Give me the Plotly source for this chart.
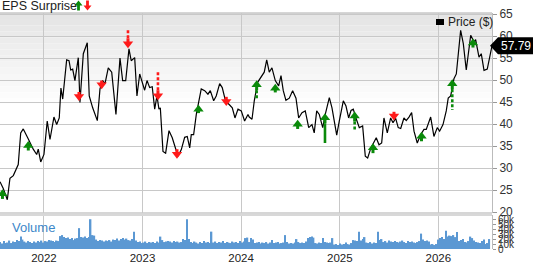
import plotly.graph_objects as go
import pandas as pd

# ---------------- data ----------------
# price observation times (fractional years) and close prices ($)
price_t = [2021.554, 2021.587, 2021.628, 2021.655, 2021.689, 2021.739, 2021.764, 2021.790, 2021.841, 2021.891,
           2021.926, 2021.942, 2021.967, 2022.000, 2022.033, 2022.061, 2022.101, 2022.129, 2022.155, 2022.172,
           2022.190, 2022.230, 2022.254, 2022.271, 2022.291, 2022.314, 2022.348, 2022.365, 2022.399, 2022.439,
           2022.459, 2022.494, 2022.541, 2022.568, 2022.595, 2022.619, 2022.652, 2022.687, 2022.730, 2022.771,
           2022.798, 2022.829, 2022.862, 2022.885, 2022.920, 2022.943, 2022.971, 2022.987, 2023.021, 2023.045,
           2023.072, 2023.098, 2023.123, 2023.146, 2023.166, 2023.180, 2023.207, 2023.234, 2023.268, 2023.301,
           2023.336, 2023.359, 2023.393, 2023.427, 2023.453, 2023.478, 2023.494, 2023.518, 2023.545, 2023.595,
           2023.630, 2023.663, 2023.687, 2023.721, 2023.747, 2023.782, 2023.808, 2023.843, 2023.876, 2023.910,
           2023.937, 2023.968, 2024.001, 2024.035, 2024.069, 2024.082, 2024.110, 2024.133, 2024.167, 2024.201,
           2024.234, 2024.259, 2024.285, 2024.312, 2024.346, 2024.380, 2024.404, 2024.427, 2024.454, 2024.488,
           2024.522, 2024.556, 2024.583, 2024.617, 2024.650, 2024.685, 2024.718, 2024.741, 2024.766, 2024.792,
           2024.827, 2024.853, 2024.894, 2024.921, 2024.944, 2024.969, 2024.995, 2025.036, 2025.063, 2025.090,
           2025.114, 2025.137, 2025.164, 2025.198, 2025.232, 2025.259, 2025.283, 2025.316, 2025.370, 2025.398,
           2025.425, 2025.448, 2025.482, 2025.516, 2025.540, 2025.567, 2025.593, 2025.618, 2025.651, 2025.674,
           2025.702, 2025.729, 2025.753, 2025.786, 2025.820, 2025.854, 2025.877, 2025.922, 2025.955, 2025.989,
           2026.013, 2026.047, 2026.080, 2026.100, 2026.125, 2026.158, 2026.182, 2026.202, 2026.226, 2026.253,
           2026.283, 2026.328, 2026.361, 2026.378, 2026.412, 2026.435, 2026.463, 2026.496, 2026.530, 2026.544]
price = [26.9, 25.4, 22.8, 27.7, 28.3, 30.8, 38.0, 38.9, 36.6, 34.3,
         33.1, 34.3, 31.4, 33.1, 40.7, 36.5, 41.6, 39.9, 41.4, 48.2,
         45.7, 54.6, 54.4, 52.3, 52.5, 49.9, 55.1, 44.9, 56.0, 58.5,
         46.4, 43.7, 40.8, 48.0, 49.9, 49.2, 52.8, 51.8, 42.2, 55.0,
         49.9, 49.9, 57.1, 54.4, 55.1, 46.4, 51.4, 50.3, 47.7, 49.9,
         48.3, 48.5, 43.4, 46.4, 43.4, 43.7, 33.8, 33.4, 38.5, 36.9,
         34.0, 32.7, 34.2, 37.0, 37.2, 34.6, 37.6, 37.6, 42.2, 48.0,
         47.6, 46.8, 47.6, 45.3, 46.4, 49.2, 48.3, 45.1, 44.5, 43.7,
         41.4, 43.4, 43.0, 40.7, 42.2, 41.6, 41.1, 45.3, 49.5, 50.6,
         51.8, 54.6, 51.8, 52.8, 49.9, 48.7, 51.0, 47.6, 45.4, 45.9,
         47.6, 45.9, 41.4, 42.6, 43.0, 39.2, 39.9, 38.0, 43.0, 42.2,
         39.2, 42.2, 46.0, 43.7, 40.3, 37.5, 40.7, 45.3, 44.1, 41.4,
         43.1, 43.4, 41.4, 39.2, 39.6, 32.7, 32.3, 34.6, 36.9, 35.3,
         35.7, 41.4, 38.0, 41.4, 40.3, 41.3, 39.2, 39.0, 41.4, 40.8,
         41.6, 42.6, 38.4, 35.7, 37.6, 38.8, 38.8, 41.6, 37.2, 39.2,
         38.4, 39.9, 43.0, 45.9, 46.4, 50.3, 51.4, 56.0, 61.3, 58.3,
         52.3, 60.2, 58.7, 59.2, 55.2, 56.0, 52.2, 52.5, 56.7, 57.79]
last_price = 57.79

# EPS surprise events: time, arrow tip price, tail price, beat/miss, stem style
eps_t = [2021.579, 2021.841, 2022.355, 2022.585, 2022.852, 2023.156, 2023.349, 2023.567, 2023.849, 2024.157,
         2024.346, 2024.573, 2024.850, 2025.151, 2025.337, 2025.550, 2025.829, 2026.141, 2026.351]
eps_tip = [24.9, 35.9, 45.5, 48.2, 57.5, 45.7, 32.4, 44.1, 44.4, 49.7,
           48.9, 40.7, 42.2, 42.6, 35.4, 41.1, 38.0, 49.9, 59.2]
eps_tail = [23.0, 34.0, 47.3, 49.9, 61.6, 52.2, 34.3, 42.5, 46.2, 45.5,
            47.2, 38.9, 35.7, 38.4, 33.4, 42.8, 36.1, 43.2, 57.4]
eps_beat = [True, True, False, False, False, False, False, True, False, True,
            True, True, True, True, True, False, True, True, True]
eps_stem = ["dot", "dot", "dot", "dot", "dot", "dot", "dot", "dot", "dot", "dot",
            "dot", "dot", "solid", "dot", "dot", "dot", "dot", "dot", "dot"]

# weekly volume (thousands of shares)
volume_start = "2021-07-22"
volume_k = [14, 11, 16, 12, 13, 17, 12, 15, 14, 18,
            16, 25, 19, 15, 13, 16, 14, 12, 15, 13,
            16, 14, 17, 13, 16, 15, 18, 17, 16, 14,
            17, 16, 26, 28, 24, 22, 23, 20, 22, 18,
            21, 22, 42, 24, 23, 25, 22, 24, 60, 28,
            27, 19, 16, 18, 17, 15, 17, 16, 18, 15,
            19, 18, 21, 17, 20, 22, 19, 21, 18, 17,
            20, 35, 17, 14, 15, 12, 13, 15, 12, 14,
            13, 14, 12, 15, 13, 25, 18, 14, 15, 16,
            15, 13, 16, 14, 15, 13, 14, 20, 18, 60,
            20, 14, 12, 15, 13, 11, 14, 12, 16, 13,
            14, 12, 35, 13, 15, 12, 14, 13, 16, 12,
            14, 13, 12, 15, 13, 14, 12, 16, 13, 15,
            22, 23, 14, 22, 19, 12, 13, 14, 11, 13,
            12, 14, 11, 13, 18, 12, 13, 14, 11, 12,
            13, 28, 14, 11, 12, 11, 13, 20, 14, 12,
            13, 12, 15, 22, 24, 25, 23, 12, 11, 13,
            12, 22, 14, 13, 12, 13, 22, 9, 10, 8,
            11, 9, 10, 13, 10, 9, 12, 18, 17, 16,
            35, 17, 20, 24, 13, 12, 14, 11, 13, 12,
            35, 18, 20, 14, 16, 13, 17, 15, 14, 16,
            14, 13, 15, 17, 14, 12, 16, 14, 15, 13,
            12, 14, 16, 31, 19, 16, 17, 15, 9, 10,
            8, 10, 19, 22, 24, 20, 37, 25, 27, 26,
            28, 24, 34, 16, 18, 20, 14, 13, 16, 25,
            22, 17, 14, 13, 12, 16, 19, 10, 12, 20]

year_ticks = ["2022", "2023", "2024", "2025", "2026"]
price_ticks = [20, 25, 30, 35, 40, 45, 50, 55, 60, 65]
volume_ticks = [0, 10000, 20000, 30000, 40000, 50000, 60000]

# ---------------- helpers ----------------
def to_date(t):
    return pd.Timestamp("2022-01-01") + pd.to_timedelta((t - 2022) * 365.25, unit="D")

price_dates = [to_date(t) for t in price_t]
eps_dates = [to_date(t) for t in eps_t]
vol_dates = pd.date_range(volume_start, periods=len(volume_k), freq="7D")
volume = [v * 1000 for v in volume_k]

PLOT_W, PLOT_H = 492.0, 236.0  # plot area size in px (for paper-coordinate decorations)
P_LO, P_HI = 19.8, 65.25
V_LO, V_HI = 0, 68500
PRICE_DOM = [36 / PLOT_H, 1.0]
VOL_DOM = [0.0, 34 / PLOT_H]

GREEN = "#0a8a0a"
RED = "#ff1a1a"
GRID = "#c8c8c8"

fig = go.Figure()

# background gradient of price panel (bands)
n_bands = 24
for i in range(n_bands):
    f0 = i / n_bands
    f1 = (i + 1) / n_bands
    shade = int(229 + (255 - 229) * min(1.0, f0 / 0.6))
    col = f"rgb({shade},{shade},{shade})"
    y1 = PRICE_DOM[1] - f0 * 0.62
    y0 = PRICE_DOM[1] - f1 * 0.62
    fig.add_shape(type="rect", xref="paper", yref="paper", x0=0, x1=1, y0=y0, y1=y1,
                  fillcolor=col, line=dict(width=0), layer="below")

# price line
fig.add_trace(go.Scatter(x=price_dates, y=price, mode="lines",
                         line=dict(color="black", width=1.2), xaxis="x", yaxis="y",
                         showlegend=False, hoverinfo="skip"))

# EPS surprise arrows
for d, tip, tail, beat, stem in zip(eps_dates, eps_tip, eps_tail, eps_beat, eps_stem):
    col = GREEN if beat else RED
    sgn = -1 if beat else 1   # direction from tip towards tail
    head_c = tip + sgn * 0.75
    shaft_end = tip + sgn * 2.0
    long_stem = abs(tail - tip) > 2.0
    if long_stem:
        fig.add_trace(go.Scatter(x=[d, d], y=[shaft_end, tail], mode="lines",
                                 line=dict(color=col, width=2.6, dash="3px,2px" if stem == "dot" else "solid"),
                                 showlegend=False, hoverinfo="skip"))
    fig.add_trace(go.Scatter(x=[d, d], y=[head_c, shaft_end if long_stem else tail],
                             mode="lines", line=dict(color=col, width=3),
                             showlegend=False, hoverinfo="skip"))
    fig.add_trace(go.Scatter(x=[d], y=[head_c], mode="markers",
                             marker=dict(symbol="triangle-up" if beat else "triangle-down",
                                         size=9, color=col, line=dict(width=0)),
                             showlegend=False, hoverinfo="skip"))

# volume bars
fig.add_trace(go.Bar(x=vol_dates, y=volume, marker=dict(color="#5b98d3", line=dict(width=0)),
                     xaxis="x", yaxis="y2", showlegend=False, hoverinfo="skip"))

x_range = [price_dates[0], price_dates[-1]]

fig.update_layout(
    width=533, height=262,
    margin=dict(l=0, r=41, t=13, b=13, autoexpand=False),
    paper_bgcolor="white",
    plot_bgcolor="rgba(0,0,0,0)",
    bargap=0.25,
    font=dict(family="Liberation Sans, Arial, sans-serif", color="#333333", size=12),
    xaxis=dict(domain=[0, 1], range=x_range, type="date",
               tickvals=[pd.Timestamp(f"{y}-01-01") for y in year_ticks],
               ticktext=year_ticks, showgrid=True, gridcolor=GRID, gridwidth=1,
               ticks="", tickfont=dict(size=11.5, color="#222222"), zeroline=False,
               showline=False, anchor="y2", automargin=False),
    yaxis=dict(domain=PRICE_DOM, range=[P_LO, P_HI], side="right", tickvals=price_ticks,
               showgrid=True, gridcolor=GRID, gridwidth=1, ticks="outside", ticklen=4,
               tickcolor="#999999", tickfont=dict(size=12, color="#333333"),
               zeroline=False, showline=True, linecolor="#bbbbbb", anchor="x", automargin=False),
    yaxis2=dict(domain=VOL_DOM, range=[V_LO, V_HI], side="right", tickvals=volume_ticks,
                tickformat="~s", showgrid=False, ticks="outside", ticklen=3,
                tickcolor="#999999", tickfont=dict(size=10, color="#333333"),
                zeroline=False, showline=True, linecolor="#bbbbbb", anchor="x", automargin=False),
)

# borders / separators
fig.add_shape(type="line", xref="paper", yref="paper", x0=0, x1=1, y0=1, y1=1,
              line=dict(color="#c8c8c8", width=1.5))
fig.add_shape(type="line", xref="paper", yref="paper", x0=0, x1=1, y0=VOL_DOM[1], y1=VOL_DOM[1],
              line=dict(color="#d8d8d8", width=2))
fig.add_shape(type="line", xref="paper", yref="paper", x0=0, x1=1, y0=PRICE_DOM[0], y1=PRICE_DOM[0],
              line=dict(color="#c8c8c8", width=1.5))

# title
title_y = (PLOT_H + 6.5) / PLOT_H
fig.add_annotation(text="EPS Surprise", xref="paper", yref="paper", x=0, y=title_y,
                   xanchor="left", yanchor="middle", showarrow=False,
                   font=dict(size=12.5, color="#222222"))

def arrow_path(cx, top, bottom, up):
    # cx, top, bottom in px of plot area (top-left origin); returns paper path
    def P(x, y):
        return f"{x / PLOT_W:.5f} {(PLOT_H - y) / PLOT_H:.5f}"
    hw, sw, hh = 4.0, 1.4, 5.0
    if up:
        pts = [(cx, top), (cx + hw, top + hh), (cx + sw, top + hh), (cx + sw, bottom),
               (cx - sw, bottom), (cx - sw, top + hh), (cx - hw, top + hh)]
    else:
        pts = [(cx, bottom), (cx + hw, bottom - hh), (cx + sw, bottom - hh), (cx + sw, top),
               (cx - sw, top), (cx - sw, bottom - hh), (cx - hw, bottom - hh)]
    return "M " + " L ".join(P(x, y) for x, y in pts) + " Z"

fig.add_shape(type="path", xref="paper", yref="paper", path=arrow_path(78.5, -12.5, -2.5, True),
              fillcolor=GREEN, line=dict(width=0))
fig.add_shape(type="path", xref="paper", yref="paper", path=arrow_path(87.5, -12.5, -2.5, False),
              fillcolor=RED, line=dict(width=0))

# price legend
fig.add_shape(type="rect", xref="paper", yref="paper", x0=436 / PLOT_W, x1=444 / PLOT_W,
              y0=(PLOT_H - 12) / PLOT_H, y1=(PLOT_H - 6) / PLOT_H, fillcolor="black", line=dict(width=0))
fig.add_annotation(text="Price ($)", xref="paper", yref="paper", x=446 / PLOT_W, y=(PLOT_H - 9) / PLOT_H,
                   xanchor="left", yanchor="middle", showarrow=False,
                   font=dict(size=12, color="#222222"))

# Volume label
fig.add_annotation(text="Volume", xref="paper", yref="paper", x=10 / PLOT_W, y=22 / PLOT_H,
                   xanchor="left", yanchor="middle", showarrow=False,
                   font=dict(size=13, color="#3d87c9"))

# last price tag
yp = PRICE_DOM[0] + (last_price - P_LO) / (P_HI - P_LO) * (PRICE_DOM[1] - PRICE_DOM[0])
hp = 8.5 / PLOT_H
fig.add_shape(type="path", xref="paper", yref="paper",
              path=f"M {490/PLOT_W} {yp} L {498/PLOT_W} {yp + hp} L {545/PLOT_W} {yp + hp} L {545/PLOT_W} {yp - hp} L {498/PLOT_W} {yp - hp} Z",
              fillcolor="black", line=dict(width=0))
fig.add_annotation(text=f"{last_price:.2f}", xref="paper", yref="paper", x=499 / PLOT_W, y=yp,
                   xanchor="left", yanchor="middle", showarrow=False,
                   font=dict(size=12, color="white"))

fig.write_html("out.html")
